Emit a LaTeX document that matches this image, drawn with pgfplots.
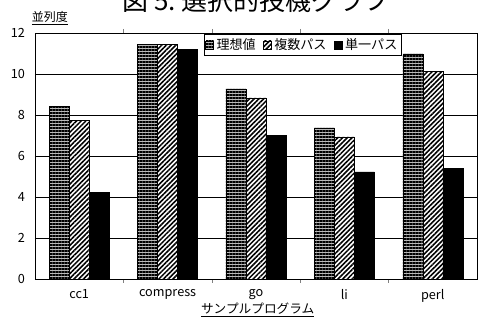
\documentclass[border=0pt]{standalone}
\usepackage{pgfplots}
\pgfplotsset{compat=1.18}
\usepackage{fontspec}
\setmainfont{Noto Sans CJK JP}
\usetikzlibrary{patterns.meta}
\begin{document}
\begin{tikzpicture}
\begin{axis}[
  at={(0,0)}, anchor=south west,
  scale only axis, width=331.5pt, height=184.5pt,
  ymin=0, ymax=12, ytick={0,2,...,12},
  xmin=-0.5, xmax=4.5,
  xtick={0,1,2,3,4},
  xticklabels={cc1,compress,go,li,perl},
  minor xtick={0.5,1.5,2.5,3.5},
  major tick length=0pt,
  minor tick length=3pt,
  tick align=inside,
  ymajorgrids,
  grid style={black, line width=0.6pt},
  axis line style={black, line width=0.6pt},
  ybar=0pt, bar width=15pt,
  /pgf/number format/assume math mode=true,
  tick label style={font=\fontsize{9.5}{11}\selectfont},
  yticklabel style={xshift=-4pt},
  xticklabel style={yshift=-4pt},
  legend style={at={(169/442,1-1.5/246)}, anchor=north west, draw=black, line width=0.6pt,
    font=\fontsize{9.8}{11}\selectfont, inner sep=1pt, outer sep=0pt,
    legend columns=-1, /tikz/every even column/.append style={column sep=3.5pt}},
  legend image code/.code={\draw[#1, line width=0.4pt] (0pt,-3pt) rectangle (6pt,3pt);},
]
\addplot[fill=gray!55, draw=black, line width=0.4pt,
  postaction={pattern={Lines[angle=0,distance=2.25pt,line width=0.95pt]}}]
  coordinates {(0,8.42) (1,11.45) (2,9.27) (3,7.37) (4,10.98)};
\addplot[fill=white, draw=black, line width=0.4pt,
  postaction={pattern={Lines[angle=45,distance=2.5pt,line width=1.15pt]}}]
  coordinates {(0,7.75) (1,11.45) (2,8.83) (3,6.93) (4,10.12)};
\addplot[fill=black, draw=black, line width=0.4pt]
  coordinates {(0,4.22) (1,11.2) (2,7.02) (3,5.22) (4,5.38)};
\legend{理想値,複数パス,単一パス}
\end{axis}
\node[font=\fontsize{9}{10}\selectfont, anchor=center] at (11.25pt,195.75pt) {\underline{並列度}};
\node[font=\fontsize{9.5}{11}\selectfont, anchor=center] at (167pt,-23.25pt) {\underline{サンプルプログラム}};
\node[font=\fontsize{19.5}{22}\selectfont, anchor=base] at (165.75pt,201pt) {図 5.\ 選択的投機グラフ};
\pgfresetboundingbox
\useasboundingbox (-26.25pt,-30.75pt) rectangle (333pt,209.25pt);
\end{tikzpicture}
\end{document}
